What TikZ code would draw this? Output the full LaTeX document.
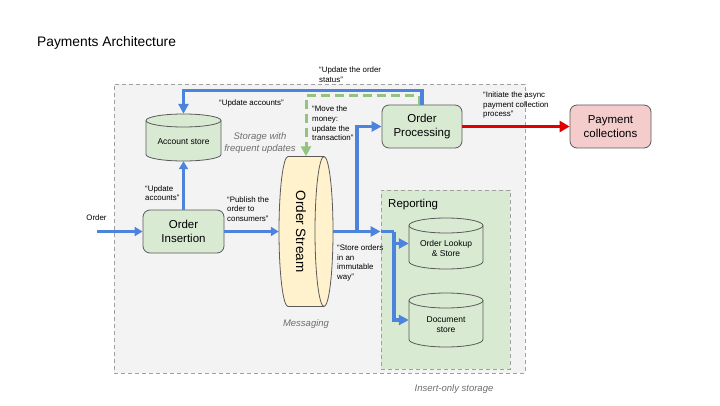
\documentclass[tikz,border=0pt]{standalone}
\usepackage{fontspec}
\setmainfont{Liberation Sans}
\usetikzlibrary{arrows.meta}
\definecolor{blu}{RGB}{76,131,221}
\definecolor{grn}{RGB}{147,196,125}
\definecolor{redc}{RGB}{224,0,0}
\definecolor{nodegreen}{RGB}{217,234,211}
\definecolor{repgreen}{RGB}{217,234,211}
\definecolor{outerfill}{RGB}{243,243,243}
\definecolor{streamfill}{RGB}{255,242,204}
\definecolor{payfill}{RGB}{244,204,204}
\definecolor{bordc}{RGB}{90,90,90}
\definecolor{dashc}{RGB}{160,160,160}
\definecolor{notegray}{RGB}{110,110,110}
\newcommand{\vcyl}[7]{%
  \filldraw[cyl] ({#2-#4},{#3+#5-#6}) -- ({#2-#4},{#3-#5+#6}) arc[start angle=180,end angle=360,x radius=#4pt,y radius=#6pt] -- ({#2+#4},{#3+#5-#6}) arc[start angle=0,end angle=180,x radius=#4pt,y radius=#6pt] -- cycle;
  \draw[cyl,fill=none] ({#2-#4},{#3+#5-#6}) arc[start angle=180,end angle=360,x radius=#4pt,y radius=#6pt];
  \node[cylbox, minimum width=2*#4pt, minimum height=2*#5pt] (#1) at (#2,#3) {};
  \node[cyltext] at ({#2},{#3-0.6*#6}) {#7};
}
\tikzset{
  procbox/.style={draw=bordc, fill=nodegreen, rounded corners=7pt, minimum width=81pt, minimum height=43pt, align=center, font=\fontsize{11.5}{14}\selectfont, line width=0.8pt, inner sep=0pt},
  cyl/.style={draw=bordc, fill=nodegreen, line width=0.8pt},
  cylbox/.style={draw=none, inner sep=0pt},
  cyltext/.style={font=\fontsize{8.5}{10}\selectfont, align=center, inner sep=0pt},
  lbl/.style={font=\fontsize{7.9}{9.6}\selectfont, align=left, anchor=west, inner sep=0pt},
  note/.style={font=\fontsize{9.5}{12}\selectfont\itshape, text=notegray, align=center, inner sep=0pt},
  grpbox/.style={draw=dashc, dash pattern=on 4pt off 3pt, line width=0.8pt, inner sep=0pt},
  flow/.style={draw=blu, line width=3.2pt, -{Triangle[length=10pt,width=10pt]}},
  flowthin/.style={draw=blu, line width=2.2pt, -{Triangle[length=8pt,width=9pt]}},
  flowline/.style={draw=blu, line width=3.2pt},
  greenflow/.style={draw=grn, line width=3pt, dash pattern=on 9pt off 5pt, -{Triangle[length=10pt,width=10pt]}},
  redflow/.style={draw=redc, line width=3pt, -{Triangle[length=10pt,width=11pt]}}
}
\begin{document}
\begin{tikzpicture}[x=1pt,y=1pt]
\useasboundingbox (0,0) rectangle (720,405);
\fill[white] (0,0) rectangle (720,405);

% title
\node[anchor=west, inner sep=0pt, font=\fontsize{13.8}{16}\selectfont] (title) at (37,362) {Payments Architecture};

% group boxes
\node[grpbox, fill=outerfill, minimum width=411pt, minimum height=289pt] (outer) at (319.5,176.5) {};
\node[grpbox, fill=repgreen, minimum width=129pt, minimum height=179pt] (rep) at (445.5,125.5) {};
\node[anchor=west, inner sep=0pt, font=\fontsize{11.5}{14}\selectfont] (reptitle) at (388,200) {Reporting};

% notes
\node[note] (storagenote) at (260,262) {Storage with\\frequent updates};
\node[note] (msgnote) at (306,81) {Messaging};
\node[note] (insnote) at (454,16) {Insert-only storage};

% cylinders
\vcyl{acct}{183.5}{267.5}{37.5}{23.5}{6.5}{Account store}
\vcyl{lookup}{446}{161.5}{37}{25.5}{7.5}{Order Lookup\\\& Store}
\vcyl{doc}{446}{85}{37}{27}{7.5}{Document\\store}

% order stream (horizontal cylinder)
\filldraw[draw=bordc, fill=streamfill, line width=0.8pt] (288,248.5) -- (324,248.5) arc[start angle=90,end angle=-90,x radius=9pt,y radius=75pt] -- (288,98.5) arc[start angle=270,end angle=90,x radius=9pt,y radius=75pt] -- cycle;
\draw[draw=bordc, line width=0.8pt] (324,248.5) arc[start angle=90,end angle=270,x radius=9pt,y radius=75pt];
\node[draw=none, inner sep=0pt, minimum width=54pt, minimum height=150pt] (stream) at (306,173.5) {};
\node[rotate=-90, font=\fontsize{13.5}{16}\selectfont, inner sep=0pt] (streamtext) at (301,173.5) {Order Stream};

% process boxes
\node[procbox] (ins) at (183.5,173.5) {Order\\Insertion};
\node[procbox, minimum width=80pt] (op) at (422,278.5) {Order\\Processing};
\node[procbox, fill=payfill] (pay) at (610.5,278.5) {Payment\\collections};

% connectors
\coordinate (orderin) at (97,173.5);
\node[font=\fontsize{7.9}{9.6}\selectfont, inner sep=0pt] (orderlbl) at (96.5,187) {Order};
\draw[flowthin] (orderin) -- (ins.west);
\draw[flowthin] (ins.north) -- (acct.south);
\draw[flowthin] (ins.east) -- (stream.west);

\draw[greenflow] ([xshift=-3pt]op.north) -- ++(0,9) -| (stream.north);
\draw[flow] (op.north) -- ++(0,14) -| (acct.north);

\coordinate (j) at (357,173.5);
\coordinate (repin) at (rep.west |- stream.east);
\coordinate (k) at (394,173.5);
\draw[flow] (stream.east) -- (repin);
\draw[flow] (j) |- (op.west);
\draw[flowline] (repin) -- (k);
\draw[flow] (k) |- (doc.west);
\draw[flow] (k |- lookup.west) -- (lookup.west);

\draw[redflow] (op.east) -- (pay.west);

% labels
\node[lbl] (l1) at (319,330.5) {“Update the order\\status”};
\node[lbl] (l2) at (219,302) {“Update accounts”};
\node[lbl] (l3) at (312,281.5) {“Move the\\money:\\update the\\transaction”};
\node[lbl] (l4) at (483,300) {“Initiate the async\\payment collection\\process”};
\node[lbl] (l5) at (145,212) {“Update\\accounts”};
\node[lbl] (l6) at (227,196) {“Publish the\\order to\\consumers”};
\node[lbl] (l7) at (337,142) {“Store orders\\in an\\immutable\\way”};
\end{tikzpicture}
\end{document}
